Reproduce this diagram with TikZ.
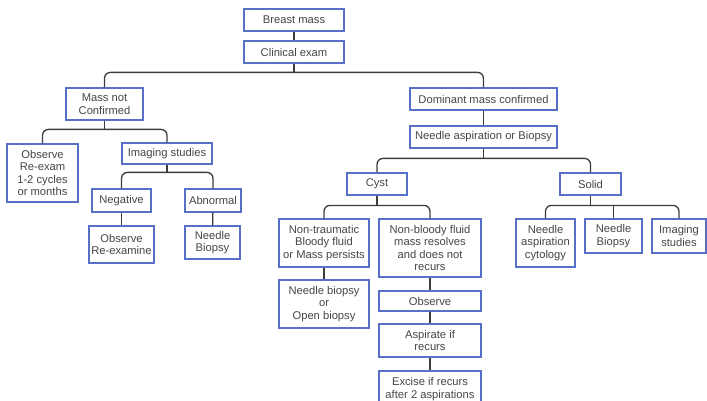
\documentclass[tikz,border=0pt]{standalone}
\usepackage{fontspec}
\setmainfont{Liberation Sans}
\usepackage{tikz}
\definecolor{boxblue}{RGB}{88,112,200}
\definecolor{linegray}{RGB}{60,60,60}
\definecolor{textgray}{RGB}{70,70,70}

\begin{document}
\begin{tikzpicture}[
x=1pt,y=-1pt,
mynode/.style={
  draw=boxblue,
  line width=1.2pt,
  fill=white,
  text=textgray,
  align=center,
  inner sep=0pt,
  font=\fontsize{11.2}{12.6}\selectfont
  },
myline/.style={draw=linegray,line width=1.3pt,rounded corners=6pt}
]
\useasboundingbox (0,0) rectangle (707,401);
\node[mynode,minimum width=100pt,minimum height=22pt] (bm) at (294,20) {Breast mass};
\node[mynode,minimum width=100pt,minimum height=22pt] (ce) at (294,52) {Clinical exam};
\node[mynode,minimum width=77pt,minimum height=32pt] (mnc) at (104.5,104) {Mass not\\Confirmed};
\node[mynode,minimum width=71pt,minimum height=58pt] (obs1) at (42.5,173) {Observe\\Re-exam\\1-2 cycles\\or months};
\node[mynode,minimum width=90pt,minimum height=21pt] (img1) at (167,153.5) {Imaging studies};
\node[mynode,minimum width=59pt,minimum height=23pt] (neg) at (121.5,200.5) {Negative};
\node[mynode,minimum width=56pt,minimum height=23pt] (abn) at (213,200.5) {Abnormal};
\node[mynode,minimum width=65pt,minimum height=37pt] (obs2) at (121.5,244.5) {Observe\\Re-examine};
\node[mynode,minimum width=55pt,minimum height=33pt] (nb1) at (212.5,242.5) {Needle\\Biopsy};
\node[mynode,minimum width=147pt,minimum height=22pt] (dmc) at (483.5,99) {Dominant mass confirmed};
\node[mynode,minimum width=147pt,minimum height=22pt] (nab) at (483.5,137) {Needle aspiration or Biopsy};
\node[mynode,minimum width=60pt,minimum height=22pt] (cyst) at (377,184) {Cyst};
\node[mynode,minimum width=61pt,minimum height=22pt] (solid) at (590.5,184) {Solid};
\node[mynode,minimum width=90pt,minimum height=48pt] (ntb) at (324,243) {Non-traumatic\\Bloody fluid\\or Mass persists};
\node[mynode,minimum width=102pt,minimum height=58pt] (nbf) at (430,248) {Non-bloody fluid\\mass resolves\\and does not\\recurs};
\node[mynode,minimum width=90pt,minimum height=48pt] (nob) at (324,304) {Needle biopsy\\or\\Open biopsy};
\node[mynode,minimum width=102pt,minimum height=20pt] (obs3) at (430,301) {Observe};
\node[mynode,minimum width=102pt,minimum height=33pt] (asp) at (430,340.5) {Aspirate if\\recurs};
\node[mynode,minimum width=102pt,minimum height=36pt] (exc) at (430,389) {Excise if recurs\\after 2 aspirations};
\node[mynode,minimum width=59pt,minimum height=48pt] (nac) at (545.5,243) {Needle\\aspiration\\cytology};
\node[mynode,minimum width=57pt,minimum height=34pt] (nb2) at (613.5,236) {Needle\\Biopsy};
\node[mynode,minimum width=54pt,minimum height=34pt] (img2) at (679,236) {Imaging\\studies};
\draw[myline] (bm) -- (ce);
\draw[myline] (ce.south) -- (ce.south |- 0,73);
\draw[myline] (mnc.north) |- ([yshift=15pt]dmc.north) -- (dmc.north);
\draw[myline] (mnc.south) -- (mnc.south |- 0,130);
\draw[myline] (obs1.north) |- ([yshift=13pt]img1.north) -- (img1.north);
\draw[myline] (img1.south) -- (img1.south |- 0,173);
\draw[myline] (neg.north) |- ([yshift=16pt]abn.north) -- (abn.north);
\draw[myline] (neg) -- (obs2);
\draw[myline] (abn) -- (nb1);
\draw[myline] (dmc) -- (nab);
\draw[myline] (nab.south) -- (nab.south |- 0,159);
\draw[myline] (cyst.north) |- ([yshift=14pt]solid.north) -- (solid.north);
\draw[myline] (cyst.south) -- (cyst.south |- 0,206);
\draw[myline] (ntb.north) |- ([yshift=13pt]nbf.north) -- (nbf.north);
\draw[myline] (ntb) -- (nob);
\draw[myline] (nbf) -- (obs3);
\draw[myline] (obs3) -- (asp);
\draw[myline] (asp) -- (exc);
\draw[myline] (solid.south) -- (solid.south |- 0,206);
\draw[myline] (nac.north) |- ([yshift=13pt]img2.north) -- (img2.north);
\draw[myline] (nb2.north) -- ([yshift=13pt]nb2.north);
\end{tikzpicture}
\end{document}
